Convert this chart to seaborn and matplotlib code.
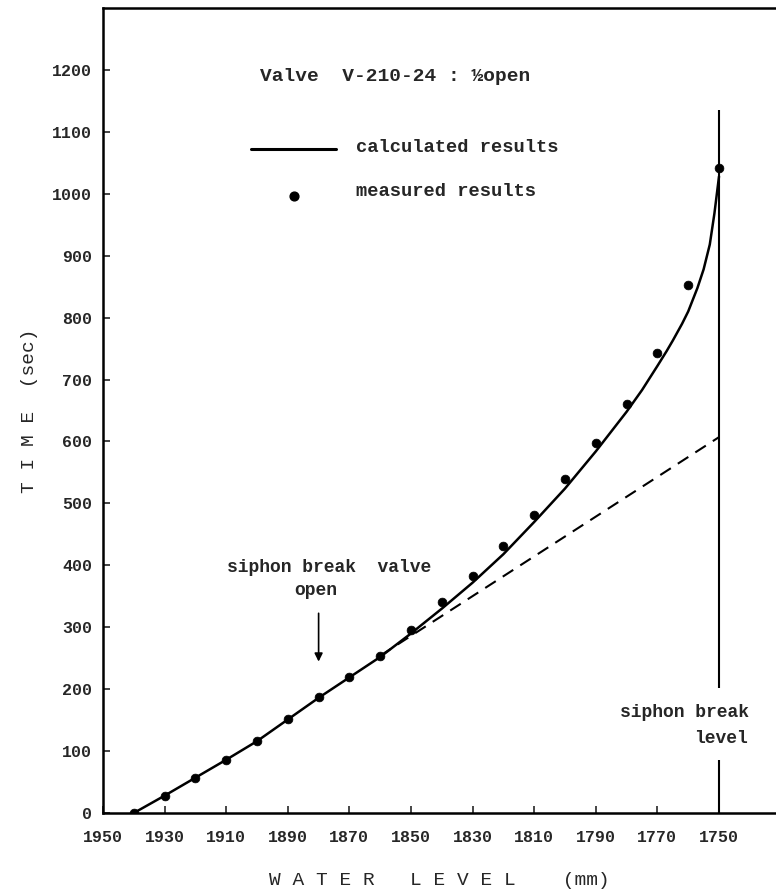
import numpy as np
import pandas as pd
import matplotlib
matplotlib.use("Agg")
import matplotlib.pyplot as plt
import seaborn as sns

# measured points (water level in mm, time in sec)
level_measured = [1940, 1930, 1920, 1910, 1900, 1890, 1880, 1870, 1860, 1850,
                  1840, 1830, 1820, 1810, 1800, 1790, 1780, 1770, 1760, 1750]
time_measured = [0, 27, 57, 86, 116, 152, 188, 220, 254, 295,
                 340, 382, 431, 481, 540, 598, 661, 743, 853, 1042]

# calculated curve
level_calc = [1940, 1930, 1920, 1910, 1900, 1890, 1880, 1870, 1860, 1850,
              1840, 1830, 1820, 1810, 1800, 1790, 1780, 1775, 1770, 1767,
              1765, 1762, 1760, 1757, 1755, 1753, 1751.5, 1750]
time_calc = [0, 28, 57, 86, 116, 151, 186, 219, 252, 290,
             330, 372, 418, 470, 524, 584, 648, 683, 722, 746,
             763, 790, 810, 848, 878, 918, 968, 1028]

# dashed extrapolation without siphon break
level_dashed = [1860, 1750]
time_dashed = [254, 607]

x_ticks = list(range(1950, 1749, -20))
y_ticks = list(range(0, 1201, 100))

sns.set_theme(style="ticks")
plt.rcParams['font.family'] = ['Liberation Mono', 'DejaVu Sans Mono']
plt.rcParams['font.weight'] = 'bold'

fig = plt.figure(figsize=(7.76, 8.92), dpi=100)
ax = fig.add_axes([103 / 776, 1 - 813 / 892, 1 - 103 / 776, (813 - 8) / 892])

calc = pd.DataFrame({"level": level_calc, "time": time_calc})
meas = pd.DataFrame({"level": level_measured, "time": time_measured})
dash = pd.DataFrame({"level": level_dashed, "time": time_dashed})

sns.lineplot(data=calc, x="level", y="time", color="black", lw=1.8, ax=ax,
             sort=False)
sns.lineplot(data=dash, x="level", y="time", color="black", lw=1.5, ax=ax,
             linestyle=(0, (6, 4)), sort=False)
sns.scatterplot(data=meas, x="level", y="time", color="black", s=40,
                edgecolor="black", ax=ax, zorder=5)

# siphon break level line
ax.vlines(1750, 202, 1136, color="black", lw=1.5)
ax.vlines(1750, 0, 86, color="black", lw=1.5)
ax.text(1761.3, 163, "siphon break", ha="center", va="center", fontsize=13)
ax.text(1749.5, 120, "level", ha="center", va="center", fontsize=13)

# siphon break valve open arrow
ax.text(1876.5, 397, "siphon break  valve", ha="center", va="center", fontsize=13)
ax.text(1881, 360, "open", ha="center", va="center", fontsize=13)
ax.annotate("", xy=(1880, 240), xytext=(1880, 327),
            arrowprops=dict(arrowstyle="-|>", color="black", lw=1.2,
                            mutation_scale=12))

# legend drawn by hand
ax.text(1899, 1189, "Valve  V-210-24 : \u00bdopen", ha="left", va="center",
        fontsize=14)
ax.plot([1901.8, 1874.3], [1073, 1073], color="black", lw=2.2)
ax.text(1867.8, 1075, "calculated results", ha="left", va="center", fontsize=13.5)
ax.scatter([1887.9], [997], color="black", s=40)
ax.text(1867.8, 1003, "measured results", ha="left", va="center", fontsize=13.5)

ax.set_xlim(1950, 1731.5)
ax.set_ylim(0, 1300)
ax.set_xticks(x_ticks)
ax.set_yticks(y_ticks)
ax.tick_params(direction="in", length=5, width=1.2, labelsize=12)
ax.tick_params(axis="x", pad=12)
ax.tick_params(axis="y", pad=8)
ax.set_xlabel("W A T E R   L E V E L    (mm)", fontsize=14, labelpad=20)
ax.set_ylabel("T I M E  (sec)", fontsize=14, labelpad=10)

for side in ["left", "bottom", "top"]:
    ax.spines[side].set_linewidth(1.8)
    ax.spines[side].set_color("black")
ax.spines["right"].set_visible(False)

fig.savefig("out.png", dpi=100)
